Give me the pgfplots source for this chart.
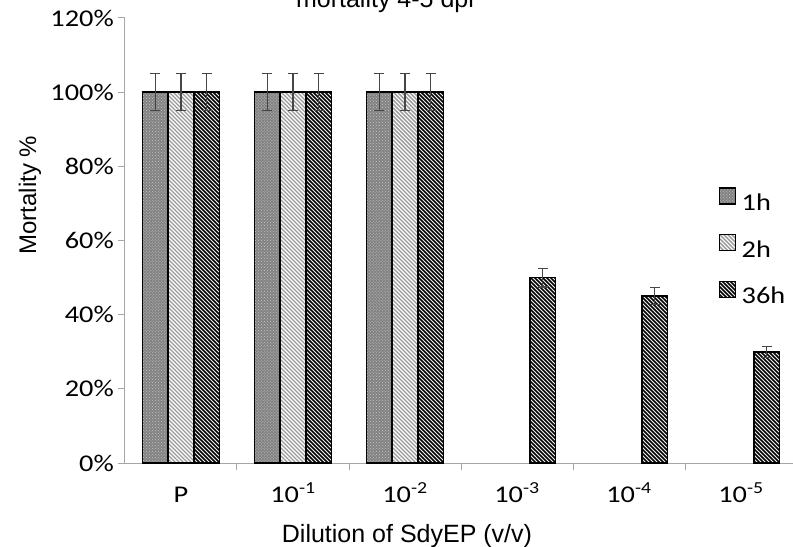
\documentclass[border=0pt]{standalone}
\usepackage{fontspec}
\setmainfont{Liberation Sans}
\newfontfamily\calib[FakeStretch=1.18]{Carlito}
\usepackage{pgfplots}
\pgfplotsset{compat=1.18}
\usetikzlibrary{patterns}
\pgfdeclarepatternformonly{diagA}{\pgfqpoint{-1bp}{-1bp}}{\pgfqpoint{5bp}{5bp}}{\pgfqpoint{4bp}{4bp}}{%
  \pgfsetlinewidth{1.4bp}%
  \pgfpathmoveto{\pgfqpoint{0bp}{4bp}}\pgfpathlineto{\pgfqpoint{4bp}{0bp}}\pgfusepath{stroke}}
\pgfdeclarepatternformonly{diagB}{\pgfqpoint{-1bp}{-1bp}}{\pgfqpoint{5bp}{5bp}}{\pgfqpoint{4bp}{4bp}}{%
  \pgfsetlinewidth{1.7bp}%
  \pgfpathmoveto{\pgfqpoint{0bp}{4bp}}\pgfpathlineto{\pgfqpoint{4bp}{0bp}}\pgfusepath{stroke}}
\definecolor{errc}{RGB}{70,70,70}
\definecolor{bar1}{RGB}{130,130,130}
\begin{document}
\begin{tikzpicture}
\begin{axis}[
  at={(0,0)}, anchor=south west,
  scale only axis, width=672bp, height=445bp,
  xmin=-0.5, xmax=5.5, ymin=0, ymax=1.2,
  axis x line=bottom, axis y line=left,
  axis line style={draw=gray!70, line width=1bp, -},
  tick style={draw=gray!70, line width=1bp},
  tick align=outside,
  major tick length=7bp,
  ybar=0pt, bar width=25.7bp,
  xtick={0.5,1.5,2.5,3.5,4.5},
  xticklabels={},
  extra x ticks={0,1,2,3,4,5},
  extra x tick labels={P,10\textsuperscript{-1},10\textsuperscript{-2},10\textsuperscript{-3},10\textsuperscript{-4},10\textsuperscript{-5}},
  extra x tick style={major tick length=0pt},
  xticklabel style={font=\calib\fontsize{24bp}{28bp}\selectfont, anchor=base, inner sep=0pt, yshift=-39bp},
  ytick={0,0.2,0.4,0.6,0.8,1,1.2},
  yticklabels={0\%,20\%,40\%,60\%,80\%,100\%,120\%},
  yticklabel style={font=\calib\fontsize{24bp}{28bp}\selectfont, anchor=east, inner sep=0pt, xshift=-4bp},
  xlabel={Dilution of SdyEP (v/v)},
  ylabel={Mortality \%},
  xlabel style={font=\fontsize{25bp}{30bp}\selectfont, at={(axis description cs:0.4196,0)}, anchor=base, yshift=-79bp},
  ylabel style={font=\fontsize{24bp}{29bp}\selectfont, at={(axis description cs:-0.1324,0.602)}, anchor=base},
  legend style={at={(axis description cs:0.884,0.620)}, anchor=north west, draw=none, fill=none, inner sep=0pt, row sep=22bp, font=\calib\fontsize{24bp}{28bp}\selectfont, nodes={inner sep=0pt}},
  legend cell align=left,
  legend image code/.code={\draw[#1, draw=black, line width=1.2bp] (0bp,-1bp) rectangle (16bp,15bp); \path (21bp,0bp);},
  error bars/y dir=both, error bars/y explicit,
  error bars/error bar style={draw=errc, line width=1.3bp, solid},
  error bars/error mark options={rotate=90, mark size=5bp, line width=1.3bp, draw=errc},
]
\addplot[draw=black, line width=1.6bp, fill=bar1, postaction={pattern=crosshatch dots, pattern color=gray!45}]
  coordinates {(0,1) +- (0,0.05) (1,1) +- (0,0.05) (2,1) +- (0,0.05)};
\addplot[draw=black, line width=1.6bp, fill=white, postaction={pattern=diagA, pattern color=gray!80}]
  coordinates {(0,1) +- (0,0.05) (1,1) +- (0,0.05) (2,1) +- (0,0.05)};
\addplot[draw=black, line width=1.6bp, fill=gray!10, postaction={pattern=diagB, pattern color=black}]
  coordinates {(0,1) +- (0,0.05) (1,1) +- (0,0.05) (2,1) +- (0,0.05) (3,0.50) +- (0,0.025) (4,0.45) +- (0,0.023) (5,0.30) +- (0,0.015)};
\legend{1h,2h,36h}
\end{axis}
\node[anchor=base, font=\fontsize{25bp}{30bp}\selectfont] at (260bp,455bp) {mortality 4-5 dpi};
\pgfresetboundingbox
\useasboundingbox (-125bp,-84bp) rectangle (668bp,463bp);
\end{tikzpicture}
\end{document}
